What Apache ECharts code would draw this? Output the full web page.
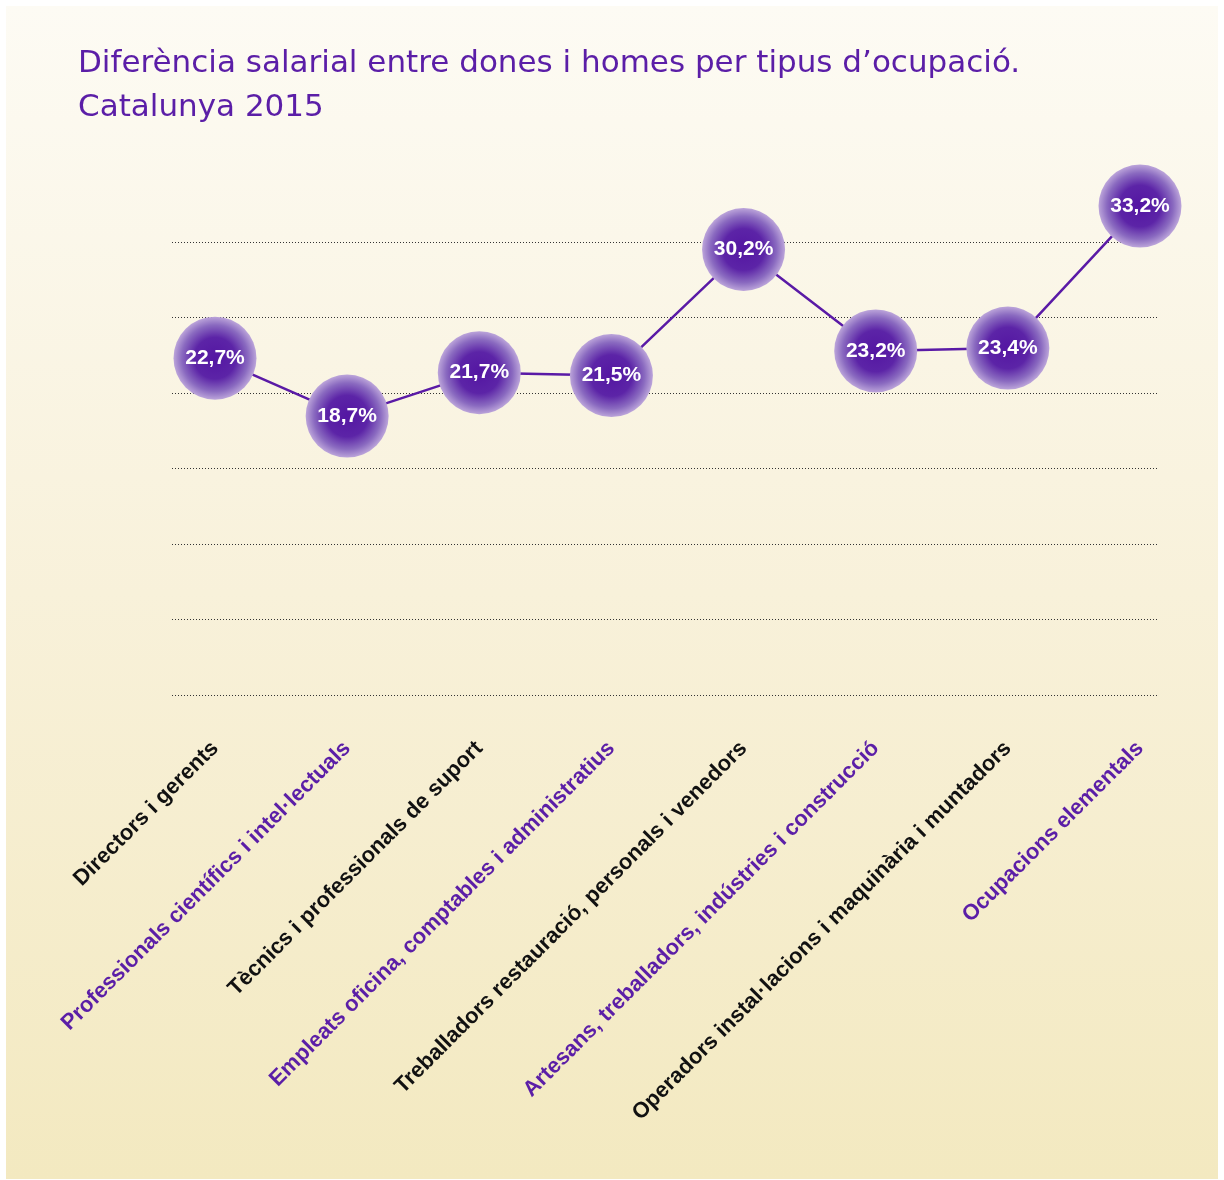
<!DOCTYPE html>
<html>
<head>
<meta charset="utf-8">
<script src="https://cdn.jsdelivr.net/npm/echarts@6/dist/echarts.min.js"></script>
<style>
html,body{margin:0;padding:0;background:#ffffff;}
#chart{width:1224px;height:1180px;}
</style>
</head>
<body>
<div id="chart"></div>
<script>
var categories = [
  'Directors i gerents',
  'Professionals científics i intel·lectuals',
  'Tècnics i professionals de suport',
  'Empleats oficina, comptables i administratius',
  'Treballadors restauració, personals i venedors',
  'Artesans, treballadors, indústries i construcció',
  'Operadors instal·lacions i maquinària i muntadors',
  'Ocupacions elementals'
];
var values = [22.7, 18.7, 21.7, 21.5, 30.2, 23.2, 23.4, 33.2];
var gridTicks = [0, 5, 10, 15, 20, 25, 30];

var purple = '#5b1ea7';
var chart = echarts.init(document.getElementById('chart'));
chart.setOption({
  backgroundColor: 'transparent',
  animation: false,
  graphic: [{
    type: 'rect', left: 6, top: 6, z: -10,
    shape: {width: 1212, height: 1173},
    style: {fill: new echarts.graphic.LinearGradient(0, 0, 0, 1, [
      {offset: 0, color: '#fdfbf4'},
      {offset: 0.5, color: '#f8f1da'},
      {offset: 1, color: '#f3e9c0'}
    ])}
  }],
  title: {
    text: 'Diferència salarial entre dones i homes per tipus d\u2019ocupació.\nCatalunya 2015',
    left: 73, top: 37,
    textStyle: {fontFamily: 'DejaVu Sans', fontSize: 31, fontWeight: 'normal', color: purple, lineHeight: 44}
  },
  grid: [
    {left: 172, right: 66, top: 242, bottom: 1180 - 695},
    {left: 215, right: 84, top: 180, bottom: 1180 - 687}
  ],
  xAxis: [
    {gridIndex: 0, type: 'value', show: false, min: 0, max: 1},
    {gridIndex: 1, type: 'category', data: categories, boundaryGap: false,
     axisLine: {show: false}, axisTick: {show: false}, splitLine: {show: false},
     axisLabel: {
       interval: 0, rotate: 45, margin: 58,
       fontFamily: 'Liberation Sans', fontWeight: 'bold', fontSize: 22,
       color: function (v, i) { return i % 2 === 0 ? '#111111' : purple; }
     }}
  ],
  yAxis: [
    {gridIndex: 0, type: 'value', min: gridTicks[0], max: gridTicks[gridTicks.length - 1], interval: gridTicks[1] - gridTicks[0],
     axisLine: {show: false}, axisTick: {show: false}, axisLabel: {show: false},
     splitLine: {show: true, lineStyle: {color: '#333333', width: 1, type: [1, 2]}}},
    {gridIndex: 1, type: 'value', min: 0, max: 35, show: false, splitLine: {show: false}}
  ],
  series: [{
    type: 'line',
    xAxisIndex: 1, yAxisIndex: 1,
    data: values,
    symbol: 'circle',
    symbolSize: 83,
    lineStyle: {color: '#5a1aa6', width: 2.5},
    itemStyle: {
      color: {type: 'radial', x: 0.5, y: 0.5, r: 0.5, colorStops: [
        {offset: 0, color: '#5416a2'},
        {offset: 0.5, color: '#5c24a7'},
        {offset: 0.8, color: '#8a6ac0'},
        {offset: 1, color: '#bca5da'}
      ]},
      borderWidth: 0
    },
    label: {
      show: true, position: 'inside',
      formatter: function (p) { return p.value.toFixed(1).replace('.', ',') + '%'; },
      color: '#ffffff', fontFamily: 'Liberation Sans', fontWeight: 'bold', fontSize: 21
    },
    z: 3
  }]
});
</script>
</body>
</html>
